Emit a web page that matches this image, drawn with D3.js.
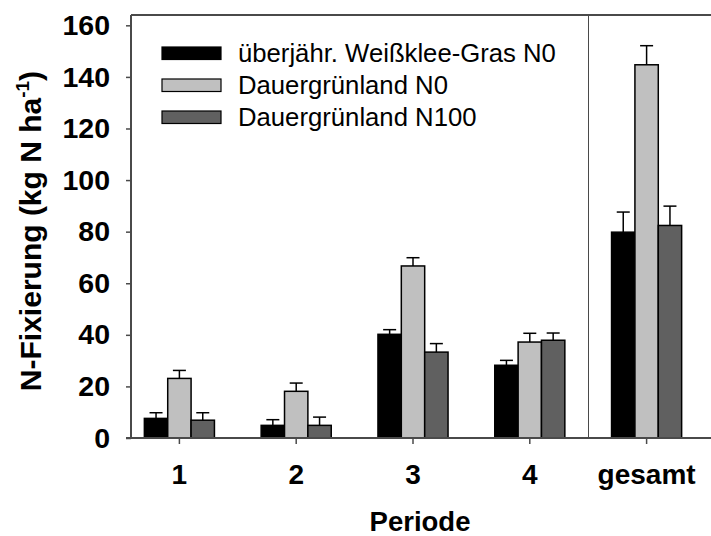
<!DOCTYPE html>
<html>
<head>
<meta charset="utf-8">
<script src="https://cdn.jsdelivr.net/npm/d3@7"></script>
<style>
  html, body { margin: 0; padding: 0; background: #fff; }
  svg { display: block; font-family: "Liberation Sans", Arial, Helvetica, sans-serif; }
</style>
</head>
<body>
<svg id="chart" width="711" height="536"></svg>
<script>
// Periods on the x axis
const periods = ["1", "2", "3", "4", "gesamt"];
// Series names (legend order)
const seriesNames = ["überjähr. Weißklee-Gras N0", "Dauergrünland N0", "Dauergrünland N100"];
const seriesColors = ["#000000", "#c0c0c0", "#606060"];
// Mean N fixation per period (kg N ha-1)
const weissklee = [7.6, 4.9, 40.2, 28.2, 79.8];
const dauerN0 = [23.1, 18.1, 66.7, 37.2, 144.7];
const dauerN100 = [6.9, 4.9, 33.3, 37.9, 82.4];
// Upper end of the error bars (mean + SE)
const weisskleeErr = [9.8, 7.1, 42.0, 30.1, 87.6];
const dauerN0Err = [26.2, 21.3, 69.9, 40.6, 152.1];
const dauerN100Err = [9.8, 8.1, 36.6, 40.7, 89.9];
// Y axis tick values
const yTicks = [0, 20, 40, 60, 80, 100, 120, 140, 160];

const seriesValues = [weissklee, dauerN0, dauerN100];
const seriesErr = [weisskleeErr, dauerN0Err, dauerN100Err];

const svg = d3.select("#chart");
const plotLeft = 131, plotRight = 711, plotTop = 15, plotBottom = 438;
const axisColor = "#4a4a4a";

const x = d3.scaleBand().domain(periods).range([121, 705])
  .paddingInner(0.4).paddingOuter(0.2);
const xSub = d3.scaleBand().domain(d3.range(seriesNames.length)).range([0, x.bandwidth()]);
const y = d3.scaleLinear().domain([0, 164]).range([plotBottom, plotTop]);

// Bars
const rows = [];
periods.forEach((p, i) => {
  seriesValues.forEach((vals, s) => {
    rows.push({ period: p, s: s, value: vals[i], err: seriesErr[s][i] });
  });
});

const g = svg.append("g");
g.selectAll("rect.bar").data(rows).join("rect")
  .attr("class", "bar")
  .attr("x", d => x(d.period) + xSub(d.s))
  .attr("y", d => y(d.value))
  .attr("width", xSub.bandwidth())
  .attr("height", d => y(0) - y(d.value))
  .attr("fill", d => seriesColors[d.s])
  .attr("stroke", "#000")
  .attr("stroke-width", 1.5);

// Error bars (upper only)
const capW = 13;
const eb = g.selectAll("g.err").data(rows).join("g").attr("class", "err");
eb.append("line")
  .attr("x1", d => x(d.period) + xSub(d.s) + xSub.bandwidth() / 2)
  .attr("x2", d => x(d.period) + xSub(d.s) + xSub.bandwidth() / 2)
  .attr("y1", d => y(d.value))
  .attr("y2", d => y(d.err))
  .attr("stroke", "#000").attr("stroke-width", 1.5);
eb.append("line")
  .attr("x1", d => x(d.period) + xSub(d.s) + xSub.bandwidth() / 2 - capW / 2)
  .attr("x2", d => x(d.period) + xSub(d.s) + xSub.bandwidth() / 2 + capW / 2)
  .attr("y1", d => y(d.err))
  .attr("y2", d => y(d.err))
  .attr("stroke", "#000").attr("stroke-width", 1.5);

// Separator between periods and total
const sepX = Math.round(x("gesamt") - x.step() * x.paddingInner() / 2) + 0.5;
svg.append("line")
  .attr("x1", sepX).attr("x2", sepX)
  .attr("y1", plotTop).attr("y2", plotBottom)
  .attr("stroke", axisColor).attr("stroke-width", 1);

// Frame: top line and axes
svg.append("line")
  .attr("x1", plotLeft).attr("x2", plotRight)
  .attr("y1", plotTop).attr("y2", plotTop)
  .attr("stroke", axisColor).attr("stroke-width", 2);

const labelFont = "'Liberation Sans', Arial, sans-serif";

// Y axis
const yAxis = svg.append("g")
  .attr("transform", `translate(${plotLeft},0)`)
  .call(d3.axisLeft(y).tickValues(yTicks).tickSize(5).tickPadding(16).tickSizeOuter(0));
yAxis.select(".domain").attr("stroke", axisColor).attr("stroke-width", 2)
  .attr("d", `M0,${plotTop}V${plotBottom}`);
yAxis.selectAll(".tick line").attr("stroke", axisColor).attr("stroke-width", 1.5);
yAxis.selectAll(".tick text")
  .attr("fill", "#000")
  .style("font-size", "28.5px").style("font-weight", "bold")
  .style("font-family", labelFont);

// X axis
const xAxis = svg.append("g")
  .attr("transform", `translate(0,${plotBottom})`)
  .call(d3.axisBottom(x).tickSize(6).tickPadding(20).tickSizeOuter(0));
xAxis.select(".domain").attr("stroke", axisColor).attr("stroke-width", 2)
  .attr("d", `M${plotLeft - 5},0H${plotRight}`);
xAxis.selectAll(".tick line").attr("stroke", axisColor).attr("stroke-width", 1.5);
xAxis.selectAll(".tick text")
  .attr("fill", "#000")
  .style("font-size", "28px").style("font-weight", "bold")
  .style("font-family", labelFont);

// Axis titles
svg.append("text")
  .attr("x", 420).attr("y", 531)
  .attr("text-anchor", "middle")
  .style("font-size", "27.5px").style("font-weight", "bold")
  .text("Periode");

const yTitle = svg.append("text")
  .attr("transform", "translate(41,231) rotate(-90)")
  .attr("text-anchor", "middle")
  .style("font-size", "30px").style("font-weight", "bold");
yTitle.append("tspan").text("N-Fixierung (kg N ha");
yTitle.append("tspan").attr("dy", -12).style("font-size", "19px").text("-1");
yTitle.append("tspan").attr("dy", 12).text(")");

// Legend
const legend = svg.append("g").attr("transform", "translate(162,47)");
const li = legend.selectAll("g").data(seriesNames).join("g")
  .attr("transform", (d, i) => `translate(0,${i * 32})`);
li.append("rect")
  .attr("width", 59).attr("height", 12.5)
  .attr("fill", (d, i) => seriesColors[i])
  .attr("stroke", "#000").attr("stroke-width", 1.2);
li.append("text")
  .attr("x", 76).attr("y", 15)
  .style("font-size", "25.7px")
  .attr("fill", "#000")
  .text(d => d);
</script>
</body>
</html>
